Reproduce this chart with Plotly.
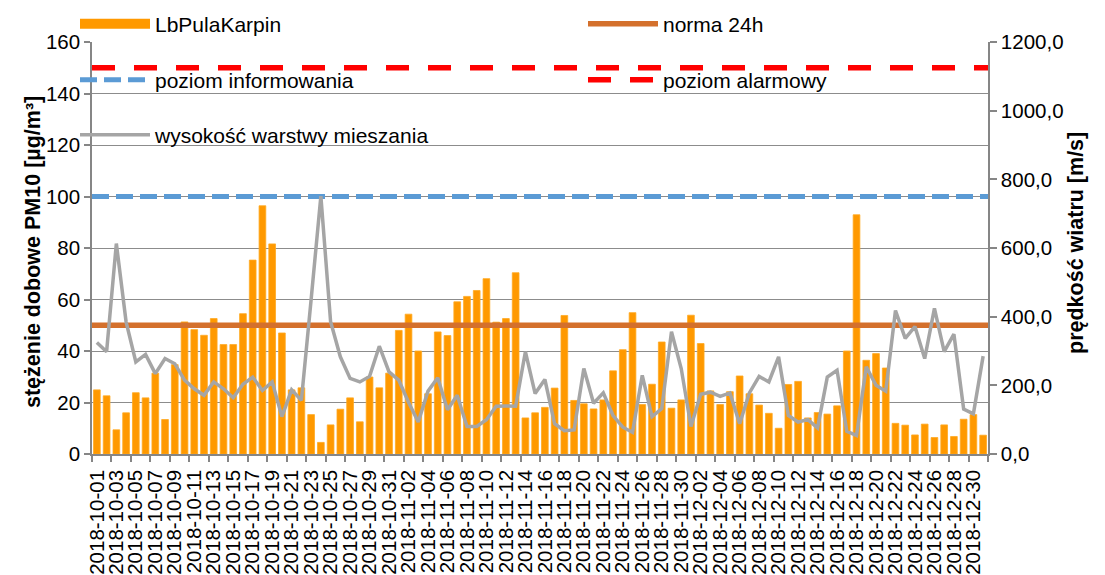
import plotly.graph_objects as go
import pandas as pd

# daily categories 2018-10-01 .. 2018-12-31
dates = pd.date_range("2018-10-01", "2018-12-31", freq="D")

# stężenie dobowe PM10 [µg/m3], station LbPulaKarpin
pm10 = [
    24.9, 22.6, 9.4, 16.0, 23.8, 21.8, 31.4, 13.4, 34.7, 51.3,
    48.3, 46.1, 52.6, 42.5, 42.5, 54.5, 75.3, 96.4, 81.6, 47.0,
    24.9, 25.7, 15.3, 4.5, 11.3, 17.4, 21.8, 12.5, 29.9, 25.7,
    31.4,
    48.0, 54.3, 40.0, 23.4, 47.4, 46.0, 59.1, 61.2, 63.5, 68.1,
    51.2, 52.6, 70.4, 14.0, 16.0, 18.1, 25.6, 53.8, 20.8, 19.5,
    17.5, 21.0, 32.3, 40.5, 54.9, 19.2, 27.1, 43.5, 17.8, 21.0,
    53.9, 42.9, 24.5, 19.2, 24.2, 30.3, 23.4, 19.0, 15.8, 10.0,
    27.0, 28.2, 14.0, 16.1, 15.5, 18.7, 40.0, 92.9, 36.4, 39.0,
    33.4, 11.9, 11.2, 7.4, 11.6, 6.4, 11.3, 6.8, 13.5, 15.3,
    7.3,
]

# wysokość warstwy mieszania (right axis)
mixing_height = [
    325, 298, 613, 385, 268, 290, 234, 278, 263, 215,
    190, 171, 210, 190, 164, 203, 224, 185, 210, 109,
    187, 156, 450, 751, 385, 283, 220, 210, 226, 314,
    239,
    215, 151, 93, 183, 222, 129, 171, 80, 80, 100,
    139, 140, 139, 298, 176, 217, 88, 68, 70, 249,
    148, 178, 112, 78, 63, 229, 109, 132, 356, 249,
    80, 174, 180, 168, 178, 88, 178, 226, 210, 283,
    112, 93, 100, 76, 224, 244, 66, 54, 254, 200,
    183, 418, 337, 371, 278, 424, 298, 349, 131, 117,
    285,
]

norma_24h = 50
poziom_informowania = 100
poziom_alarmowy = 150

W, H = 1105, 575
OFF = 8  # page body margin in the browser
DAY = 86400000
x_edges = ["2018-09-30 12:00", "2018-12-31 12:00"]
FONT = "Liberation Sans, Arial, sans-serif"
AXIS_GRAY = "#868686"

# plot area in screen pixels
PX0, PX1, PY0, PY1 = 92, 988, 42, 454


def legend_at(px, py):
    # one legend box per entry, placed in screen pixels like the excel layout
    return dict(
        x=(px - OFF) / W, y=1 - (py - OFF) / H, xref="container", yref="container",
        xanchor="left", yanchor="middle",
        bgcolor="rgba(0,0,0,0)", itemwidth=70,
        font=dict(family=FONT, size=21, color="#000000"),
    )


def paper_xy(px, py):
    return (px - PX0) / (PX1 - PX0), (PY1 - py) / (PY1 - PY0)


fig = go.Figure()

fig.add_trace(go.Bar(
    x=dates, y=pm10, name="LbPulaKarpin",
    marker=dict(color="#FF9900", line=dict(color="#FFAA22", width=0.8)),
    showlegend=False,
))
# wide swatch for the bar series in the legend
fig.add_trace(go.Scatter(
    x=[None], y=[None], mode="lines", name="LbPulaKarpin",
    line=dict(color="#FF9900", width=14), legend="legend",
))

fig.add_trace(go.Scatter(
    x=x_edges, y=[norma_24h] * 2, mode="lines", name="norma 24h",
    line=dict(color="#D4702C", width=5.5), legend="legend2",
))
fig.add_trace(go.Scatter(
    x=x_edges, y=[poziom_informowania] * 2, mode="lines", name="poziom informowania",
    line=dict(color="#5B9BD5", width=5, dash="17px,7px"), legend="legend3",
))
fig.add_trace(go.Scatter(
    x=x_edges, y=[poziom_alarmowy] * 2, mode="lines", name="poziom alarmowy",
    line=dict(color="#FF0000", width=5.5, dash="23px,19px"), legend="legend4",
))
fig.add_trace(go.Scatter(
    x=dates, y=mixing_height, yaxis="y2", mode="lines",
    name="wysokość warstwy mieszania",
    line=dict(color="#A5A5A5", width=3.5), legend="legend5",
))

# axis titles
lx, ly = paper_xy(19, 252)
rx, ry = paper_xy(1090, 243)
fig.add_annotation(x=lx, y=ly, xref="paper", yref="paper", showarrow=False,
                   text="<b>stężenie dobowe PM10 [µg/m³]</b>", textangle=-90,
                   font=dict(size=21.5, family=FONT, color="#000000"))
fig.add_annotation(x=rx, y=ry, xref="paper", yref="paper", showarrow=False,
                   text="<b>prędkość wiatru [m/s]</b>", textangle=-90,
                   font=dict(size=21.5, family=FONT, color="#000000"))

fig.update_layout(
    width=W, height=H, autosize=False,
    margin=dict(l=PX0 - OFF, r=W - (PX1 - OFF), t=PY0 - OFF, b=H - (PY1 - OFF),
                autoexpand=False),
    paper_bgcolor="white", plot_bgcolor="white",
    font=dict(family=FONT, size=20, color="#000000"),
    separators=", ",
    bargap=0.31,
    legend=legend_at(75, 24),
    legend2=legend_at(583, 24),
    legend3=legend_at(75, 80),
    legend4=legend_at(583, 80),
    legend5=legend_at(75, 135),
    xaxis=dict(
        type="date", range=x_edges, automargin=False,
        tickformat="%Y-%m-%d", tick0="2018-10-01", dtick=2 * DAY,
        tickangle=-90, tickfont=dict(size=20.5),
        ticks="outside", ticklen=6, tickcolor="rgba(0,0,0,0)",
        minor=dict(ticks="outside", tick0="2018-09-30 12:00", dtick=2 * DAY,
                   ticklen=6, tickwidth=1.5, tickcolor=AXIS_GRAY, showgrid=False),
        showgrid=False, zeroline=False,
        showline=True, linecolor=AXIS_GRAY, linewidth=1.5,
    ),
    yaxis=dict(
        range=[0, 160], dtick=20, automargin=False,
        showgrid=True, gridcolor="#8C8C8C", gridwidth=1.3, zeroline=False,
        showline=True, linecolor=AXIS_GRAY, linewidth=1.5,
        ticks="outside", ticklen=6, tickwidth=1.5, tickcolor=AXIS_GRAY,
        tickfont=dict(size=20.5),
    ),
    yaxis2=dict(
        overlaying="y", side="right", automargin=False,
        range=[0, 1200], dtick=200, tickformat=".1f",
        showgrid=False, zeroline=False,
        showline=True, linecolor=AXIS_GRAY, linewidth=1.5,
        ticks="outside", ticklen=7, tickwidth=1.5, tickcolor=AXIS_GRAY,
        tickfont=dict(size=20.5),
    ),
)

fig.write_html("out.html")
